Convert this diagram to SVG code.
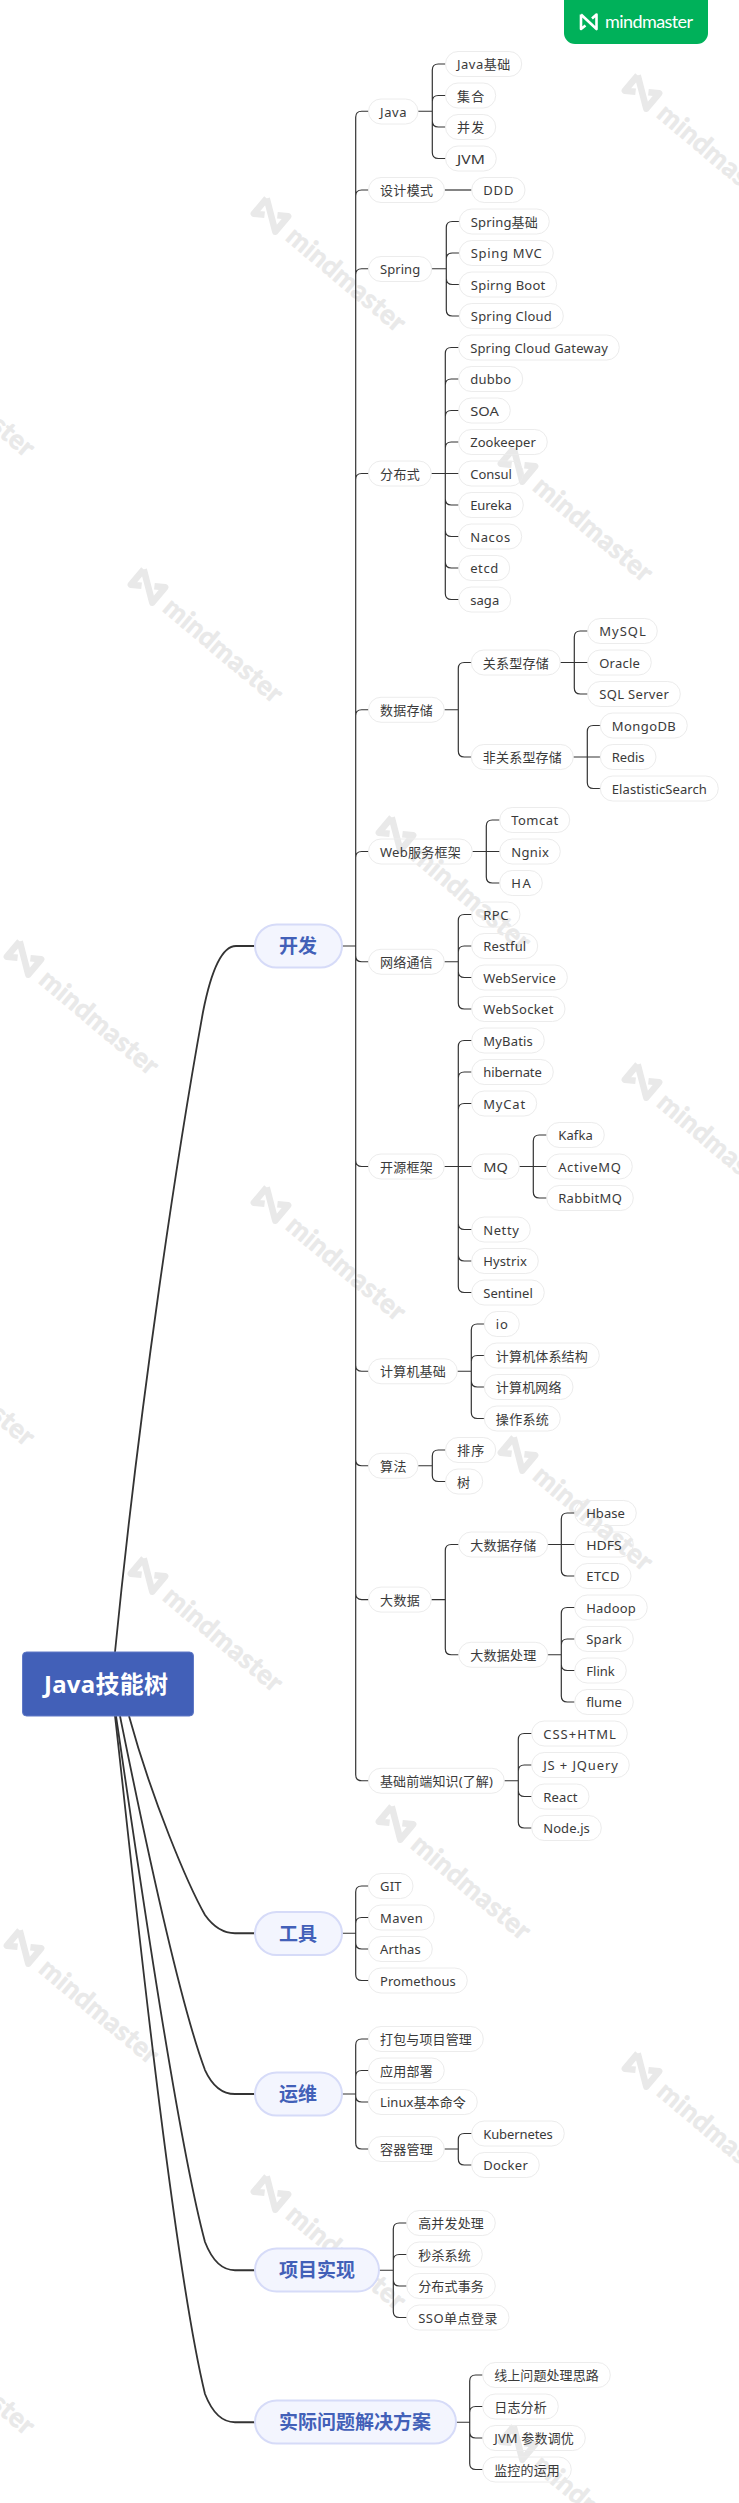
<svg xmlns="http://www.w3.org/2000/svg" width="739" height="2503" viewBox="0 0 739 2503">
<style>
text{font-family:"Noto Sans","Noto Sans CJK SC",sans-serif}
.n rect{height:25px;rx:12.5px;ry:12.5px;fill:none;stroke:#ececec;stroke-width:1}
.n text{font-size:13px;fill:#3a3a3a}
.t rect{height:43px;rx:21.5px;ry:21.5px;fill:#f3f5fe;stroke:#d6dbf8;stroke-width:2}
.t text{font-size:19px;font-weight:700;fill:#4260b8}
#connectors path{fill:none;stroke:#333}
.c1{stroke-width:1.2}
.c0{stroke-width:1.8}
.wt{font-family:Lato,"Noto Sans",sans-serif;font-size:27px;font-weight:700;fill:#e9e9e9;stroke:#e9e9e9;stroke-width:.7}
.wl{fill:none;stroke:#e9e9e9;stroke-width:6.5;stroke-linejoin:round}
</style>
<defs>
<g id="wm" transform="rotate(40)">
<path class="wl" d="M-14 -10V10L-5 4M-14 -10L14 10V-10L5 -4"/>
<text class="wt" x="26" y="10" textLength="146">mindmaster</text>
</g>
</defs>
<g id="watermarks">
<use href="#wm" transform="translate(642,92)"/>
<use href="#wm" transform="translate(271,215)"/>
<use href="#wm" transform="translate(518,465)"/>
<use href="#wm" transform="translate(148,586)"/>
<use href="#wm" transform="translate(396,834)"/>
<use href="#wm" transform="translate(24,958)"/>
<use href="#wm" transform="translate(-100,340)"/>
<use href="#wm" transform="translate(642,1081)"/>
<use href="#wm" transform="translate(271,1204)"/>
<use href="#wm" transform="translate(518,1454)"/>
<use href="#wm" transform="translate(148,1575)"/>
<use href="#wm" transform="translate(396,1823)"/>
<use href="#wm" transform="translate(24,1947)"/>
<use href="#wm" transform="translate(-100,1329)"/>
<use href="#wm" transform="translate(642,2070)"/>
<use href="#wm" transform="translate(271,2193)"/>
<use href="#wm" transform="translate(518,2443)"/>
<use href="#wm" transform="translate(-100,2318)"/>
</g>
<g id="badge">
<path d="M564 0H708V33a11 11 0 0 1-11 11H575a11 11 0 0 1-11-11Z" fill="#00b15a"/>
<path d="M581 14.5V29L585.5 25.5M581 14.5L596.5 29V14.5L592 18.500" fill="none" stroke="#fff" stroke-width="2.6" stroke-linejoin="round"/>
<text x="605" y="27.500" font-size="18" fill="#fff" textLength="88" style="font-family:Lato,sans-serif">mindmaster</text>
</g>
<g id="connectors">
<path class="c0" d="M115 1652C140 1400 178 1150 203 1012Q216 946 236 946H255"/>
<path class="c0" d="M129 1716C152 1800 188 1885 205 1915Q218 1933.250 235 1933.250H255"/>
<path class="c0" d="M120 1716C135 1790 175 1990 205 2070Q216 2094 235 2094H255"/>
<path class="c0" d="M116 1716C130 1810 175 2130 205 2242Q216 2270.250 235 2270.250H255"/>
<path class="c0" d="M115 1716C125 1800 170 2250 205 2394Q216 2422.250 235 2422.250H255"/>
<path class="c1" d="M342 946H355.700M368.500 111.250H361.700Q355.700 111.250 355.700 117.250V1774.750Q355.700 1780.750 361.700 1780.750H368.500M355.700 196Q355.700 190 361.700 190H368.500M355.700 274.750Q355.700 268.750 361.700 268.750H368.500M355.700 479.500Q355.700 473.500 361.700 473.500H368.500M355.700 715.750Q355.700 709.750 361.700 709.750H368.500M355.700 857.500Q355.700 851.500 361.700 851.500H368.500M355.700 955.750Q355.700 961.750 361.700 961.750H368.500M355.700 1160.500Q355.700 1166.500 361.700 1166.500H368.500M355.700 1365.250Q355.700 1371.250 361.700 1371.250H368.500M355.700 1459.750Q355.700 1465.750 361.700 1465.750H368.500M355.700 1593.600Q355.700 1599.600 361.700 1599.600H368.500"/>
<path class="c1" d="M418 111.250H432.300M445.500 64H438.300Q432.300 64 432.300 70V152.500Q432.300 158.500 438.300 158.500H445.500M432.300 101.500Q432.300 95.500 438.300 95.500H445.500M432.300 121Q432.300 127 438.300 127H445.500"/>
<path class="c1" d="M444.500 190H471.700"/>
<path class="c1" d="M431.700 268.750H446.300M459.300 221.500H452.300Q446.300 221.500 446.300 227.500V310Q446.300 316 452.300 316H459.300M446.300 259Q446.300 253 452.300 253H459.300M446.300 278.500Q446.300 284.500 452.300 284.500H459.300"/>
<path class="c1" d="M431.300 473.500H458.700M458.700 347.500H451.300Q445.300 347.500 445.300 353.500V593.500Q445.300 599.500 451.300 599.500H458.700M445.300 385Q445.300 379 451.300 379H458.700M445.300 416.500Q445.300 410.500 451.300 410.500H458.700M445.300 448Q445.300 442 451.300 442H458.700M445.300 499Q445.300 505 451.300 505H458.700M445.300 530.500Q445.300 536.500 451.300 536.500H458.700M445.300 562Q445.300 568 451.300 568H458.700"/>
<path class="c1" d="M444.300 709.750H458.300M471.300 662.500H464.300Q458.300 662.500 458.300 668.500V751Q458.300 757 464.300 757H471.300"/>
<path class="c1" d="M560.300 662.500H587.700M587.700 631H580.300Q574.300 631 574.300 637V688Q574.300 694 580.300 694H587.700"/>
<path class="c1" d="M573.300 757H600.300M600.300 725.500H593.300Q587.300 725.500 587.300 731.500V782.500Q587.300 788.500 593.300 788.500H600.300"/>
<path class="c1" d="M472.300 851.500H499.700M499.700 820H492.300Q486.300 820 486.300 826V877Q486.300 883 492.300 883H499.700"/>
<path class="c1" d="M444.300 961.750H458.300M471.700 914.500H464.300Q458.300 914.500 458.300 920.500V1003Q458.300 1009 464.300 1009H471.700M458.300 952Q458.300 946 464.300 946H471.700M458.300 971.500Q458.300 977.500 464.300 977.500H471.700"/>
<path class="c1" d="M444.300 1166.500H471.700M471.700 1040.500H464.300Q458.300 1040.500 458.300 1046.500V1286.500Q458.300 1292.500 464.300 1292.500H471.700M458.300 1078Q458.300 1072 464.300 1072H471.700M458.300 1109.500Q458.300 1103.500 464.300 1103.500H471.700M458.300 1223.500Q458.300 1229.500 464.300 1229.500H471.700M458.300 1255Q458.300 1261 464.300 1261H471.700"/>
<path class="c1" d="M519.300 1166.500H546.700M546.700 1135H539.300Q533.300 1135 533.300 1141V1192Q533.300 1198 539.300 1198H546.700"/>
<path class="c1" d="M457.300 1371.250H471.300M484.300 1324H477.300Q471.300 1324 471.300 1330V1412.500Q471.300 1418.500 477.300 1418.500H484.300M471.300 1361.500Q471.300 1355.500 477.300 1355.500H484.300M471.300 1381Q471.300 1387 477.300 1387H484.300"/>
<path class="c1" d="M418 1465.750H432.300M445.500 1450H438.300Q432.300 1450 432.300 1456V1475.500Q432.300 1481.500 438.300 1481.500H445.500"/>
<path class="c1" d="M431.300 1599.600H445.300M458.700 1544.500H451.300Q445.300 1544.500 445.300 1550.500V1648.750Q445.300 1654.750 451.300 1654.750H458.700"/>
<path class="c1" d="M547.700 1544.500H574.700M574.700 1513H567.300Q561.300 1513 561.300 1519V1570Q561.300 1576 567.300 1576H574.700"/>
<path class="c1" d="M547.700 1654.750H561.300M574.700 1607.500H567.300Q561.300 1607.500 561.300 1613.500V1696Q561.300 1702 567.300 1702H574.700M561.300 1645Q561.300 1639 567.300 1639H574.700M561.300 1664.500Q561.300 1670.500 567.300 1670.500H574.700"/>
<path class="c1" d="M504.300 1780.750H518.300M531.700 1733.500H524.300Q518.300 1733.500 518.300 1739.500V1822Q518.300 1828 524.300 1828H531.700M518.300 1771Q518.300 1765 524.300 1765H531.700M518.300 1790.500Q518.300 1796.500 524.300 1796.500H531.700"/>
<path class="c1" d="M342 1933.250H355.700M368.500 1886H361.700Q355.700 1886 355.700 1892V1974.500Q355.700 1980.500 361.700 1980.500H368.500M355.700 1923.500Q355.700 1917.500 361.700 1917.500H368.500M355.700 1943Q355.700 1949 361.700 1949H368.500"/>
<path class="c1" d="M342 2094H355.700M368.500 2039H361.700Q355.700 2039 355.700 2045V2143Q355.700 2149 361.700 2149H368.500M355.700 2076.500Q355.700 2070.500 361.700 2070.500H368.500M355.700 2096Q355.700 2102 361.700 2102H368.500"/>
<path class="c1" d="M444.300 2149H458.300M471.700 2133.500H464.300Q458.300 2133.500 458.300 2139.500V2159Q458.300 2165 464.300 2165H471.700"/>
<path class="c1" d="M379 2270.250H393.300M406.700 2223H399.300Q393.300 2223 393.300 2229V2311.500Q393.300 2317.500 399.300 2317.500H406.700M393.300 2260.500Q393.300 2254.500 399.300 2254.500H406.700M393.300 2280Q393.300 2286 399.300 2286H406.700"/>
<path class="c1" d="M456 2422.250H469.700M482.700 2375H475.700Q469.700 2375 469.700 2381V2463.500Q469.700 2469.500 475.700 2469.500H482.700M469.700 2412.500Q469.700 2406.500 475.700 2406.500H482.700M469.700 2432Q469.700 2438 475.700 2438H482.700"/>
</g>
<g id="root"><rect x="22.500" y="1652" width="171" height="64" rx="4" fill="#4260b8" stroke="#6079c6" stroke-width="1"/><text x="44" y="1693" font-size="24" font-weight="700" fill="#fff" textLength="124">Java技能树</text></g>
<g id="t1" class="t"><rect x="255" y="924.500" width="87"/><text x="279" y="953">开发</text></g>
<g id="t2" class="t"><rect x="255" y="1912" width="87"/><text x="279" y="1941">工具</text></g>
<g id="t3" class="t"><rect x="255" y="2072.500" width="87"/><text x="279" y="2101">运维</text></g>
<g id="t4" class="t"><rect x="255" y="2248.500" width="124"/><text x="279" y="2277">项目实现</text></g>
<g id="t5" class="t"><rect x="255" y="2400.500" width="201"/><text x="279" y="2429">实际问题解决方案</text></g>
<g id="n1" class="n"><rect x="368.500" y="99" width="49.500"/><text x="380" y="116.500" textLength="26.500">Java</text></g>
<g id="n2" class="n"><rect x="445.500" y="51.500" width="76.200"/><text x="457" y="69" textLength="53.200">Java基础</text></g>
<g id="n3" class="n"><rect x="445.500" y="83" width="50.200"/><text x="457" y="100.500" textLength="27.200">集合</text></g>
<g id="n4" class="n"><rect x="445.500" y="114.500" width="50.200"/><text x="457" y="132" textLength="27.200">并发</text></g>
<g id="n5" class="n"><rect x="445.500" y="146" width="50.800"/><text x="457" y="163.500" textLength="27.800" lengthAdjust="spacingAndGlyphs">JVM</text></g>
<g id="n6" class="n"><rect x="368.500" y="177.500" width="76"/><text x="380" y="195" textLength="53">设计模式</text></g>
<g id="n7" class="n"><rect x="471.700" y="177.500" width="53.300"/><text x="483.200" y="195" textLength="30.300">DDD</text></g>
<g id="n8" class="n"><rect x="368.500" y="256.500" width="63.200"/><text x="380" y="274" textLength="40.200">Spring</text></g>
<g id="n9" class="n"><rect x="459.300" y="209" width="90"/><text x="470.800" y="226.500" textLength="67">Spring基础</text></g>
<g id="n10" class="n"><rect x="459.300" y="240.500" width="94"/><text x="470.800" y="258" textLength="71">Sping MVC</text></g>
<g id="n11" class="n"><rect x="459.300" y="272" width="97.400"/><text x="470.800" y="289.500" textLength="74.400">Spirng Boot</text></g>
<g id="n12" class="n"><rect x="459.300" y="303.500" width="104"/><text x="470.800" y="321" textLength="81">Spring Cloud</text></g>
<g id="n13" class="n"><rect x="368.500" y="461" width="62.800"/><text x="380" y="478.500" textLength="39.800">分布式</text></g>
<g id="n14" class="n"><rect x="458.700" y="335" width="160.600"/><text x="470.200" y="352.500" textLength="137.600">Spring Cloud Gateway</text></g>
<g id="n15" class="n"><rect x="458.700" y="366.500" width="64"/><text x="470.200" y="384" textLength="41">dubbo</text></g>
<g id="n16" class="n"><rect x="458.700" y="398" width="51.600"/><text x="470.200" y="415.500" textLength="28.600" lengthAdjust="spacingAndGlyphs">SOA</text></g>
<g id="n17" class="n"><rect x="458.700" y="429.500" width="88.600"/><text x="470.200" y="447" textLength="65.600">Zookeeper</text></g>
<g id="n18" class="n"><rect x="458.700" y="461" width="64.600"/><text x="470.200" y="478.500" textLength="41.600">Consul</text></g>
<g id="n19" class="n"><rect x="458.700" y="492.500" width="64.600"/><text x="470.200" y="510" textLength="41.600">Eureka</text></g>
<g id="n20" class="n"><rect x="458.700" y="524" width="63"/><text x="470.200" y="541.500" textLength="40">Nacos</text></g>
<g id="n21" class="n"><rect x="458.700" y="555.500" width="51"/><text x="470.200" y="573" textLength="28">etcd</text></g>
<g id="n22" class="n"><rect x="458.700" y="587" width="52"/><text x="470.200" y="604.500" textLength="29">saga</text></g>
<g id="n23" class="n"><rect x="368.500" y="697.250" width="75.800"/><text x="380" y="714.750" textLength="52.800">数据存储</text></g>
<g id="n24" class="n"><rect x="471.300" y="650" width="89"/><text x="482.800" y="667.500" textLength="66">关系型存储</text></g>
<g id="n25" class="n"><rect x="587.700" y="618.500" width="69.600"/><text x="599.200" y="636" textLength="46.600">MySQL</text></g>
<g id="n26" class="n"><rect x="587.700" y="650" width="63.600"/><text x="599.200" y="667.500" textLength="40.600">Oracle</text></g>
<g id="n27" class="n"><rect x="587.700" y="681.500" width="92.600"/><text x="599.200" y="699" textLength="69.600">SQL Server</text></g>
<g id="n28" class="n"><rect x="471.300" y="744.500" width="102"/><text x="482.800" y="762" textLength="79">非关系型存储</text></g>
<g id="n29" class="n"><rect x="600.300" y="713" width="87"/><text x="611.800" y="730.500" textLength="64">MongoDB</text></g>
<g id="n30" class="n"><rect x="600.300" y="744.500" width="55.700"/><text x="611.800" y="762" textLength="32.700">Redis</text></g>
<g id="n31" class="n"><rect x="600.300" y="776" width="118"/><text x="611.800" y="793.500" textLength="95">ElastisticSearch</text></g>
<g id="n32" class="n"><rect x="368.500" y="839" width="103.800"/><text x="380" y="856.500" textLength="80.800">Web服务框架</text></g>
<g id="n33" class="n"><rect x="499.700" y="807.500" width="70"/><text x="511.200" y="825" textLength="47">Tomcat</text></g>
<g id="n34" class="n"><rect x="499.700" y="839" width="60.600"/><text x="511.200" y="856.500" textLength="37.600">Ngnix</text></g>
<g id="n35" class="n"><rect x="499.700" y="870.500" width="42.600"/><text x="511.200" y="888" textLength="19.600">HA</text></g>
<g id="n36" class="n"><rect x="368.500" y="949.250" width="75.800"/><text x="380" y="966.750" textLength="52.800">网络通信</text></g>
<g id="n37" class="n"><rect x="471.700" y="902" width="48.300"/><text x="483.200" y="919.500" textLength="25.300">RPC</text></g>
<g id="n38" class="n"><rect x="471.700" y="933.500" width="66"/><text x="483.200" y="951" textLength="43">Restful</text></g>
<g id="n39" class="n"><rect x="471.700" y="965" width="95.700"/><text x="483.200" y="982.500" textLength="72.700">WebService</text></g>
<g id="n40" class="n"><rect x="471.700" y="996.500" width="93.300"/><text x="483.200" y="1014" textLength="70.300">WebSocket</text></g>
<g id="n41" class="n"><rect x="368.500" y="1154" width="75.800"/><text x="380" y="1171.500" textLength="52.800">开源框架</text></g>
<g id="n42" class="n"><rect x="471.700" y="1028" width="72.600"/><text x="483.200" y="1045.500" textLength="49.600">MyBatis</text></g>
<g id="n43" class="n"><rect x="471.700" y="1059.500" width="81.600"/><text x="483.200" y="1077" textLength="58.600">hibernate</text></g>
<g id="n44" class="n"><rect x="471.700" y="1091" width="65"/><text x="483.200" y="1108.500" textLength="42">MyCat</text></g>
<g id="n45" class="n"><rect x="471.700" y="1154" width="47.600"/><text x="483.200" y="1171.500" textLength="24.600" lengthAdjust="spacingAndGlyphs">MQ</text></g>
<g id="n46" class="n"><rect x="546.700" y="1122.500" width="57.600"/><text x="558.200" y="1140" textLength="34.600">Kafka</text></g>
<g id="n47" class="n"><rect x="546.700" y="1154" width="85.600"/><text x="558.200" y="1171.500" textLength="62.600">ActiveMQ</text></g>
<g id="n48" class="n"><rect x="546.700" y="1185.500" width="86.600"/><text x="558.200" y="1203" textLength="63.600">RabbitMQ</text></g>
<g id="n49" class="n"><rect x="471.700" y="1217" width="58.600"/><text x="483.200" y="1234.500" textLength="35.600">Netty</text></g>
<g id="n50" class="n"><rect x="471.700" y="1248.500" width="66.600"/><text x="483.200" y="1266" textLength="43.600">Hystrix</text></g>
<g id="n51" class="n"><rect x="471.700" y="1280" width="72.600"/><text x="483.200" y="1297.500" textLength="49.600">Sentinel</text></g>
<g id="n52" class="n"><rect x="368.500" y="1358.750" width="88.800"/><text x="380" y="1376.250" textLength="65.800">计算机基础</text></g>
<g id="n53" class="n"><rect x="484.300" y="1311.500" width="35"/><text x="495.800" y="1329" textLength="12">io</text></g>
<g id="n54" class="n"><rect x="484.300" y="1343" width="115"/><text x="495.800" y="1360.500" textLength="92">计算机体系结构</text></g>
<g id="n55" class="n"><rect x="484.300" y="1374.500" width="88.700"/><text x="495.800" y="1392" textLength="65.700">计算机网络</text></g>
<g id="n56" class="n"><rect x="484.300" y="1406" width="76"/><text x="495.800" y="1423.500" textLength="53">操作系统</text></g>
<g id="n57" class="n"><rect x="368.500" y="1453.250" width="49.500"/><text x="380" y="1470.750" textLength="26.500">算法</text></g>
<g id="n58" class="n"><rect x="445.500" y="1437.500" width="50.200"/><text x="457" y="1455" textLength="27.200">排序</text></g>
<g id="n59" class="n"><rect x="445.500" y="1469" width="37.200"/><text x="457" y="1486.500" textLength="14.200">树</text></g>
<g id="n60" class="n"><rect x="368.500" y="1587.100" width="62.800"/><text x="380" y="1604.600" textLength="39.800">大数据</text></g>
<g id="n61" class="n"><rect x="458.700" y="1532" width="89"/><text x="470.200" y="1549.500" textLength="66">大数据存储</text></g>
<g id="n62" class="n"><rect x="574.700" y="1500.500" width="61.600"/><text x="586.200" y="1518" textLength="38.600">Hbase</text></g>
<g id="n63" class="n"><rect x="574.700" y="1532" width="58.600"/><text x="586.200" y="1549.500" textLength="35.600" lengthAdjust="spacingAndGlyphs">HDFS</text></g>
<g id="n64" class="n"><rect x="574.700" y="1563.500" width="56.300"/><text x="586.200" y="1581" textLength="33.300">ETCD</text></g>
<g id="n65" class="n"><rect x="458.700" y="1642.250" width="89"/><text x="470.200" y="1659.750" textLength="66">大数据处理</text></g>
<g id="n66" class="n"><rect x="574.700" y="1595" width="72.600"/><text x="586.200" y="1612.500" textLength="49.600">Hadoop</text></g>
<g id="n67" class="n"><rect x="574.700" y="1626.500" width="58.600"/><text x="586.200" y="1644" textLength="35.600">Spark</text></g>
<g id="n68" class="n"><rect x="574.700" y="1658" width="51.600"/><text x="586.200" y="1675.500" textLength="28.600">Flink</text></g>
<g id="n69" class="n"><rect x="574.700" y="1689.500" width="58.600"/><text x="586.200" y="1707" textLength="35.600">flume</text></g>
<g id="n70" class="n"><rect x="368.500" y="1768.250" width="135.800"/><text x="380" y="1785.750" textLength="112.800">基础前端知识(了解)</text></g>
<g id="n71" class="n"><rect x="531.700" y="1721" width="95.600"/><text x="543.200" y="1738.500" textLength="72.600">CSS+HTML</text></g>
<g id="n72" class="n"><rect x="531.700" y="1752.500" width="97.600"/><text x="543.200" y="1770" textLength="74.600">JS + JQuery</text></g>
<g id="n73" class="n"><rect x="531.700" y="1784" width="57.300"/><text x="543.200" y="1801.500" textLength="34.300">React</text></g>
<g id="n74" class="n"><rect x="531.700" y="1815.500" width="69.600"/><text x="543.200" y="1833" textLength="46.600">Node.js</text></g>
<g id="n75" class="n"><rect x="368.500" y="1873.500" width="44.500"/><text x="380" y="1891" textLength="21.500">GIT</text></g>
<g id="n76" class="n"><rect x="368.500" y="1905" width="65.800"/><text x="380" y="1922.500" textLength="42.800">Maven</text></g>
<g id="n77" class="n"><rect x="368.500" y="1936.500" width="63.800"/><text x="380" y="1954" textLength="40.800">Arthas</text></g>
<g id="n78" class="n"><rect x="368.500" y="1968" width="98.800"/><text x="380" y="1985.500" textLength="75.800">Promethous</text></g>
<g id="n79" class="n"><rect x="368.500" y="2026.500" width="114.800"/><text x="380" y="2044" textLength="91.800">打包与项目管理</text></g>
<g id="n80" class="n"><rect x="368.500" y="2058" width="75.800"/><text x="380" y="2075.500" textLength="52.800">应用部署</text></g>
<g id="n81" class="n"><rect x="368.500" y="2089.500" width="108.800"/><text x="380" y="2107" textLength="85.800">Linux基本命令</text></g>
<g id="n82" class="n"><rect x="368.500" y="2136.500" width="75.800"/><text x="380" y="2154" textLength="52.800">容器管理</text></g>
<g id="n83" class="n"><rect x="471.700" y="2121" width="92.600"/><text x="483.200" y="2138.500" textLength="69.600">Kubernetes</text></g>
<g id="n84" class="n"><rect x="471.700" y="2152.500" width="67.600"/><text x="483.200" y="2170" textLength="44.600">Docker</text></g>
<g id="n85" class="n"><rect x="406.700" y="2210.500" width="88.600"/><text x="418.200" y="2228" textLength="65.600">高并发处理</text></g>
<g id="n86" class="n"><rect x="406.700" y="2242" width="75.600"/><text x="418.200" y="2259.500" textLength="52.600">秒杀系统</text></g>
<g id="n87" class="n"><rect x="406.700" y="2273.500" width="88.600"/><text x="418.200" y="2291" textLength="65.600">分布式事务</text></g>
<g id="n88" class="n"><rect x="406.700" y="2305" width="102.300"/><text x="418.200" y="2322.500" textLength="79.300">SSO单点登录</text></g>
<g id="n89" class="n"><rect x="482.700" y="2362.500" width="127.600"/><text x="494.200" y="2380" textLength="104.600">线上问题处理思路</text></g>
<g id="n90" class="n"><rect x="482.700" y="2394" width="75.600"/><text x="494.200" y="2411.500" textLength="52.600">日志分析</text></g>
<g id="n91" class="n"><rect x="482.700" y="2425.500" width="102.600"/><text x="494.200" y="2443" textLength="79.600">JVM 参数调优</text></g>
<g id="n92" class="n"><rect x="482.700" y="2457" width="88.600"/><text x="494.200" y="2474.500" textLength="65.600">监控的运用</text></g>
</svg>
